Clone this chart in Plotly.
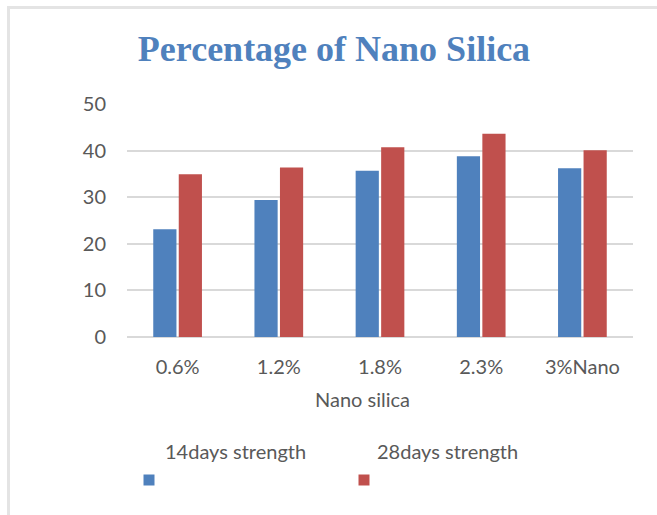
import plotly.graph_objects as go

# Data
categories = ["0.6%", "1.2%", "1.8%", "2.3%", "3%Nano"]
strength_14 = [23.1, 29.4, 35.7, 38.8, 36.2]
strength_28 = [34.9, 36.4, 40.7, 43.6, 40.1]
series_names = ["14days strength", "28days strength"]
y_ticks = [0, 10, 20, 30, 40, 50]

BLUE = "#4F81BD"
RED = "#C0504D"
TEXT = "#595959"
GRID = "#D9D9D9"
FONT = "Lato"

W, H = 657, 515
L, R, T, B = 127, 24, 104, 178
PW, PH = W - L - R, H - T - B


def px_x(x):
    return (x - L) / PW


def px_y(y):
    return (H - B - y) / PH


fig = go.Figure()
fig.add_trace(go.Bar(x=categories, y=strength_14, name=series_names[0],
                     marker=dict(color=BLUE, line=dict(width=0))))
fig.add_trace(go.Bar(x=categories, y=strength_28, name=series_names[1],
                     marker=dict(color=RED, line=dict(width=0))))

shapes = [
    # light frame around the chart (top and left edges visible)
    dict(type="rect", xref="paper", yref="paper",
         x0=px_x(8.5), x1=px_x(700), y0=px_y(7.5), y1=px_y(560),
         line=dict(color="#E4E4E4", width=3), fillcolor="rgba(0,0,0,0)",
         layer="below"),
]

# legend: label above a small colour square
legend_items = [(series_names[0], BLUE, 149, 163), (series_names[1], RED, 364, 375)]
annotations = []
for name, color, sq_cx, text_x in legend_items:
    shapes.append(dict(type="rect", xref="paper", yref="paper",
                       x0=px_x(sq_cx - 5.5), x1=px_x(sq_cx + 5.5),
                       y0=px_y(485.5), y1=px_y(474.5),
                       line=dict(width=0), fillcolor=color))
    annotations.append(dict(text=name, xref="paper", yref="paper",
                            x=px_x(text_x), y=px_y(451), xanchor="left",
                            yanchor="middle", showarrow=False,
                            font=dict(family=FONT, size=20, color=TEXT)))

# x axis title
annotations.append(dict(text="Nano silica", xref="paper", yref="paper",
                        x=px_x(362), y=px_y(399), xanchor="center",
                        yanchor="middle", showarrow=False,
                        font=dict(family=FONT, size=20, color=TEXT)))

fig.update_layout(
    width=W, height=H,
    margin=dict(l=L, r=R, t=T, b=B),
    paper_bgcolor="white", plot_bgcolor="white",
    title=dict(text="Percentage of Nano Silica", xref="paper", x=px_x(334),
               xanchor="center", yref="container", y=1 - 36 / H, yanchor="top",
               font=dict(family="Liberation Serif", size=36, color=BLUE,
                         weight="bold")),
    barmode="group", bargap=0.496, bargroupgap=0.09,
    showlegend=False,
    shapes=shapes, annotations=annotations,
    xaxis=dict(showgrid=False, showline=False, zeroline=False,
               ticks="", ticklabelstandoff=16,
               tickfont=dict(family=FONT, size=20, color=TEXT)),
    yaxis=dict(range=[0, 50], tickvals=y_ticks, showgrid=True,
               gridcolor=GRID, gridwidth=2, zeroline=True,
               zerolinecolor=GRID, zerolinewidth=2, showline=False,
               ticks="", ticklabelstandoff=20,
               tickfont=dict(family=FONT, size=20, color=TEXT)),
)

fig.write_html("out.html")
